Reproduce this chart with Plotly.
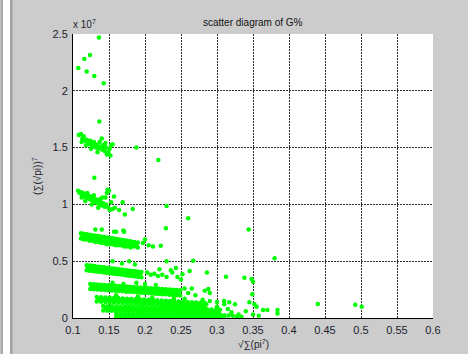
import plotly.graph_objects as go

# ---- data (x actual, y in units of 1e7) ----
band_top = [(0.1074, 2.20), (0.1157, 2.28), (0.1236, 2.315), (0.1361, 2.47),
            (0.1190, 2.17), (0.1296, 2.13), (0.1426, 2.066), (0.1366, 1.73)]

band_15 = [(0.108, 1.61), (0.111, 1.62), (0.113, 1.58), (0.115, 1.60), (0.117, 1.56),
           (0.119, 1.57), (0.121, 1.55), (0.122, 1.53), (0.124, 1.56), (0.126, 1.54),
           (0.127, 1.51), (0.129, 1.55), (0.131, 1.53), (0.132, 1.50), (0.134, 1.52),
           (0.136, 1.49), (0.137, 1.55), (0.139, 1.51), (0.141, 1.48), (0.142, 1.52),
           (0.144, 1.47), (0.146, 1.50), (0.147, 1.44), (0.149, 1.46), (0.151, 1.49),
           (0.153, 1.52), (0.152, 1.43), (0.112, 1.55), (0.118, 1.52), (0.125, 1.49),
           (0.140, 1.58), (0.145, 1.54), (0.134, 1.46), (0.155, 1.53),
           (0.188, 1.50), (0.2185, 1.39), (0.1296, 1.235)]

band_10 = [(0.107, 1.12), (0.109, 1.10), (0.111, 1.11), (0.113, 1.08), (0.114, 1.10),
           (0.116, 1.07), (0.118, 1.09), (0.119, 1.06), (0.121, 1.08), (0.122, 1.05),
           (0.124, 1.07), (0.125, 1.04), (0.127, 1.06), (0.128, 1.03), (0.130, 1.05),
           (0.131, 1.02), (0.133, 1.04), (0.134, 1.01), (0.136, 1.03), (0.137, 1.00),
           (0.139, 1.02), (0.140, 0.99), (0.142, 1.01), (0.144, 0.98), (0.145, 1.06),
           (0.147, 1.10), (0.148, 1.13), (0.150, 1.12), (0.146, 1.00), (0.149, 0.97),
           (0.151, 0.95), (0.153, 1.02), (0.117, 1.03), (0.126, 1.00), (0.135, 0.97),
           (0.141, 1.06), (0.155, 0.96), (0.158, 0.97), (0.112, 1.06), (0.120, 1.10),
           (0.129, 1.08), (0.138, 1.05),
           (0.157, 1.07), (0.169, 1.02), (0.164, 0.95), (0.172, 0.91), (0.183, 0.96),
           (0.230, 0.986), (0.260, 0.878), (0.229, 0.79), (0.344, 0.78), (0.131, 0.78),
           (0.157, 0.76), (0.171, 0.76)]

band_07 = [(0.111, 0.745), (0.111, 0.70), (0.115, 0.741), (0.115, 0.69), (0.119, 0.737),
           (0.119, 0.69), (0.123, 0.733), (0.123, 0.68), (0.127, 0.729), (0.127, 0.68),
           (0.131, 0.725), (0.131, 0.67), (0.135, 0.721), (0.135, 0.67), (0.139, 0.717),
           (0.139, 0.66), (0.143, 0.713), (0.143, 0.66), (0.147, 0.709), (0.147, 0.65),
           (0.151, 0.705), (0.151, 0.65), (0.155, 0.701), (0.155, 0.65), (0.159, 0.697),
           (0.159, 0.64), (0.163, 0.693), (0.163, 0.64), (0.167, 0.689), (0.167, 0.64),
           (0.171, 0.685), (0.171, 0.63), (0.175, 0.680), (0.175, 0.63), (0.180, 0.675),
           (0.180, 0.62), (0.185, 0.670), (0.185, 0.63), (0.190, 0.665), (0.190, 0.62),
           (0.113, 0.72), (0.117, 0.715), (0.121, 0.71), (0.125, 0.705), (0.129, 0.70),
           (0.133, 0.695), (0.137, 0.69), (0.141, 0.685), (0.145, 0.68), (0.149, 0.675),
           (0.153, 0.675), (0.157, 0.67), (0.161, 0.665), (0.165, 0.665), (0.169, 0.66),
           (0.173, 0.655), (0.178, 0.65), (0.183, 0.645), (0.188, 0.64),
           (0.200, 0.69), (0.197, 0.66), (0.205, 0.64), (0.211, 0.63), (0.222, 0.636),
           (0.140, 0.78), (0.160, 0.76), (0.170, 0.77)]

band_045 = [(0.119, 0.465), (0.119, 0.420), (0.123, 0.462), (0.123, 0.417), (0.127, 0.459),
            (0.127, 0.414), (0.131, 0.455), (0.131, 0.410), (0.135, 0.452), (0.135, 0.407),
            (0.139, 0.449), (0.139, 0.404), (0.143, 0.446), (0.143, 0.401), (0.147, 0.443),
            (0.147, 0.398), (0.151, 0.439), (0.151, 0.394), (0.155, 0.436), (0.155, 0.391),
            (0.159, 0.433), (0.159, 0.388), (0.163, 0.430), (0.163, 0.385), (0.167, 0.427),
            (0.167, 0.382), (0.171, 0.423), (0.171, 0.378), (0.175, 0.420), (0.175, 0.375),
            (0.179, 0.417), (0.179, 0.372), (0.183, 0.414), (0.183, 0.369), (0.187, 0.411),
            (0.187, 0.366), (0.191, 0.407), (0.191, 0.362), (0.195, 0.404), (0.195, 0.359),
            (0.121, 0.44), (0.125, 0.44), (0.129, 0.435), (0.133, 0.43), (0.137, 0.43),
            (0.141, 0.425), (0.145, 0.42), (0.149, 0.415), (0.153, 0.415), (0.157, 0.41),
            (0.161, 0.41), (0.165, 0.405), (0.169, 0.40), (0.173, 0.40), (0.177, 0.395),
            (0.181, 0.39), (0.185, 0.39), (0.189, 0.385), (0.193, 0.38),
            (0.203, 0.40), (0.208, 0.38), (0.213, 0.39), (0.218, 0.37), (0.224, 0.38),
            (0.230, 0.36), (0.236, 0.42), (0.220, 0.43), (0.178, 0.50), (0.155, 0.50),
            (0.168, 0.48), (0.186, 0.47),
            (0.238, 0.40), (0.252, 0.385), (0.262, 0.414), (0.267, 0.505), (0.286, 0.40),
            (0.3125, 0.364), (0.338, 0.355), (0.350, 0.32), (0.380, 0.525), (0.245, 0.36),
            (0.250, 0.34), (0.243, 0.44), (0.230, 0.50)]

band_028 = [(0.124, 0.300), (0.124, 0.255), (0.129, 0.298), (0.129, 0.253), (0.134, 0.295),
            (0.134, 0.250), (0.139, 0.293), (0.139, 0.248), (0.144, 0.291), (0.144, 0.246),
            (0.149, 0.289), (0.149, 0.244), (0.154, 0.286), (0.154, 0.241), (0.159, 0.284),
            (0.159, 0.239), (0.164, 0.282), (0.164, 0.237), (0.169, 0.280), (0.169, 0.235),
            (0.174, 0.277), (0.174, 0.232), (0.179, 0.275), (0.179, 0.230), (0.184, 0.273),
            (0.184, 0.228), (0.189, 0.271), (0.189, 0.226), (0.194, 0.268), (0.194, 0.223),
            (0.199, 0.266), (0.199, 0.221), (0.204, 0.264), (0.204, 0.219), (0.209, 0.262),
            (0.209, 0.217), (0.214, 0.259), (0.214, 0.214), (0.219, 0.257), (0.219, 0.212),
            (0.224, 0.255), (0.224, 0.210), (0.229, 0.253), (0.229, 0.208), (0.234, 0.250),
            (0.234, 0.205), (0.239, 0.248), (0.239, 0.203), (0.244, 0.246), (0.244, 0.201),
            (0.249, 0.244), (0.249, 0.199),
            (0.126, 0.278), (0.131, 0.275), (0.136, 0.273), (0.141, 0.270), (0.146, 0.268),
            (0.151, 0.266), (0.156, 0.264), (0.161, 0.262), (0.166, 0.259), (0.171, 0.257),
            (0.176, 0.255), (0.181, 0.252), (0.186, 0.250), (0.191, 0.248), (0.196, 0.245),
            (0.201, 0.243), (0.206, 0.241), (0.211, 0.238), (0.216, 0.236), (0.221, 0.234),
            (0.226, 0.231), (0.231, 0.229), (0.236, 0.227), (0.241, 0.224), (0.246, 0.222),
            (0.155, 0.31), (0.170, 0.30), (0.188, 0.31), (0.200, 0.30), (0.215, 0.29),
            (0.255, 0.26), (0.260, 0.22), (0.270, 0.20), (0.283, 0.24), (0.290, 0.22),
            (0.265, 0.26), (0.288, 0.255), (0.348, 0.343), (0.349, 0.21)]

band_017 = [(0.133, 0.185), (0.133, 0.145), (0.139, 0.183), (0.139, 0.143), (0.145, 0.181),
            (0.145, 0.141), (0.151, 0.179), (0.151, 0.139), (0.157, 0.177), (0.157, 0.137),
            (0.163, 0.175), (0.163, 0.135), (0.169, 0.172), (0.169, 0.132), (0.175, 0.170),
            (0.175, 0.130), (0.181, 0.168), (0.181, 0.128), (0.187, 0.166), (0.187, 0.126),
            (0.193, 0.164), (0.193, 0.124), (0.199, 0.162), (0.199, 0.122), (0.205, 0.160),
            (0.205, 0.120), (0.211, 0.158), (0.211, 0.118), (0.217, 0.156), (0.217, 0.116),
            (0.223, 0.154), (0.223, 0.114), (0.229, 0.151), (0.229, 0.111), (0.235, 0.149),
            (0.235, 0.109), (0.241, 0.147), (0.241, 0.107), (0.247, 0.145), (0.247, 0.105),
            (0.253, 0.143), (0.253, 0.103), (0.259, 0.141), (0.259, 0.101), (0.265, 0.139),
            (0.265, 0.099), (0.271, 0.137), (0.271, 0.097), (0.277, 0.135), (0.277, 0.095),
            (0.283, 0.133), (0.283, 0.093),
            (0.136, 0.165), (0.142, 0.162), (0.148, 0.160), (0.154, 0.158), (0.160, 0.156),
            (0.166, 0.154), (0.172, 0.151), (0.178, 0.149), (0.184, 0.147), (0.190, 0.145),
            (0.196, 0.143), (0.202, 0.141), (0.208, 0.139), (0.214, 0.137), (0.220, 0.135),
            (0.226, 0.132), (0.232, 0.130), (0.238, 0.128), (0.244, 0.126), (0.250, 0.124),
            (0.256, 0.122), (0.262, 0.120), (0.268, 0.118), (0.274, 0.116), (0.280, 0.114),
            (0.160, 0.20), (0.190, 0.19), (0.210, 0.18), (0.240, 0.17), (0.280, 0.16),
            (0.290, 0.15), (0.300, 0.14), (0.310, 0.15), (0.255, 0.17), (0.317, 0.138),
            (0.345, 0.138), (0.352, 0.12)]

band_008 = [(0.142, 0.105), (0.142, 0.065), (0.148, 0.104), (0.148, 0.064), (0.154, 0.103),
            (0.154, 0.063), (0.160, 0.101), (0.160, 0.061), (0.166, 0.100), (0.166, 0.060),
            (0.172, 0.099), (0.172, 0.059), (0.178, 0.098), (0.178, 0.058), (0.184, 0.097),
            (0.184, 0.057), (0.190, 0.095), (0.190, 0.055), (0.196, 0.094), (0.196, 0.054),
            (0.202, 0.093), (0.202, 0.053), (0.208, 0.092), (0.208, 0.052), (0.214, 0.091),
            (0.214, 0.051), (0.220, 0.089), (0.220, 0.049), (0.226, 0.088), (0.226, 0.048),
            (0.232, 0.087), (0.232, 0.047), (0.238, 0.086), (0.238, 0.046), (0.244, 0.085),
            (0.244, 0.045), (0.250, 0.083), (0.250, 0.043), (0.256, 0.082), (0.256, 0.042),
            (0.262, 0.081), (0.262, 0.041), (0.268, 0.080), (0.268, 0.040), (0.274, 0.079),
            (0.274, 0.039), (0.280, 0.077), (0.280, 0.037), (0.286, 0.076), (0.286, 0.036),
            (0.292, 0.075), (0.292, 0.035), (0.298, 0.074), (0.298, 0.034), (0.304, 0.073),
            (0.304, 0.033),
            (0.145, 0.085), (0.151, 0.084), (0.157, 0.083), (0.163, 0.081), (0.169, 0.080),
            (0.175, 0.079), (0.181, 0.077), (0.187, 0.076), (0.193, 0.075), (0.199, 0.074),
            (0.205, 0.072), (0.211, 0.071), (0.217, 0.070), (0.223, 0.069), (0.229, 0.067),
            (0.235, 0.066), (0.241, 0.065), (0.247, 0.064), (0.253, 0.062), (0.259, 0.061),
            (0.265, 0.060), (0.271, 0.059), (0.277, 0.057), (0.283, 0.056), (0.289, 0.055),
            (0.295, 0.054), (0.301, 0.053)]

band_002 = [(0.160, 0.040), (0.160, 0.010), (0.166, 0.040), (0.166, 0.009), (0.172, 0.039),
            (0.172, 0.010), (0.178, 0.039), (0.178, 0.008), (0.184, 0.038), (0.184, 0.009),
            (0.190, 0.038), (0.190, 0.008), (0.196, 0.037), (0.196, 0.009), (0.202, 0.037),
            (0.202, 0.008), (0.208, 0.036), (0.208, 0.009), (0.214, 0.036), (0.214, 0.008),
            (0.220, 0.035), (0.220, 0.008), (0.226, 0.035), (0.226, 0.009), (0.232, 0.034),
            (0.232, 0.008), (0.238, 0.034), (0.238, 0.007), (0.244, 0.033), (0.244, 0.008),
            (0.250, 0.032), (0.250, 0.007), (0.256, 0.032), (0.256, 0.008), (0.262, 0.031),
            (0.262, 0.007), (0.268, 0.030), (0.268, 0.008), (0.274, 0.030), (0.274, 0.007),
            (0.280, 0.029), (0.280, 0.007), (0.286, 0.028), (0.286, 0.006), (0.292, 0.027),
            (0.292, 0.007), (0.298, 0.026), (0.298, 0.006), (0.304, 0.025), (0.304, 0.006),
            (0.310, 0.024), (0.310, 0.005), (0.316, 0.022), (0.322, 0.020), (0.328, 0.015),
            (0.334, 0.010),
            (0.163, 0.024), (0.169, 0.024), (0.175, 0.023), (0.181, 0.023), (0.187, 0.022),
            (0.193, 0.022), (0.199, 0.021), (0.205, 0.021), (0.211, 0.020), (0.217, 0.020),
            (0.223, 0.020), (0.229, 0.019), (0.235, 0.019), (0.241, 0.018), (0.247, 0.018),
            (0.253, 0.017), (0.259, 0.017), (0.265, 0.016), (0.271, 0.016), (0.277, 0.015),
            (0.283, 0.015), (0.289, 0.014), (0.295, 0.014), (0.301, 0.013), (0.307, 0.013)]

outliers_low = [(0.285, 0.12), (0.300, 0.10), (0.310, 0.12), (0.315, 0.08), (0.325, 0.12),
                (0.340, 0.06), (0.350, 0.03), (0.355, 0.10), (0.358, 0.02), (0.364, 0.07),
                (0.370, 0.07), (0.384, 0.07), (0.384, 0.04), (0.330, 0.03), (0.320, 0.05),
                (0.440, 0.123), (0.492, 0.117), (0.501, 0.10)]

all_bands = [band_top, band_15, band_10, band_07, band_045, band_028,
             band_017, band_008, band_002, outliers_low]

x_tickvals = [0.1, 0.15, 0.2, 0.25, 0.3, 0.35, 0.4, 0.45, 0.5, 0.55, 0.6]
x_ticktext = ["0.1", "0.15", "0.2", "0.25", "0.3", "0.35", "0.4", "0.45", "0.5", "0.55", "0.6"]
y_tickvals = [0, 0.5, 1, 1.5, 2, 2.5]
y_ticktext = ["0", "0.5", "1", "1.5", "2", "2.5"]

xs = [p[0] for band in all_bands for p in band]
ys = [p[1] for band in all_bands for p in band]

# ---- figure ----
W, H = 468, 354
ML, MR, MT, MB = 73, 35, 34, 36
PW, PH = W - ML - MR, H - MT - MB

def px_x(px):
    return (px - ML) / PW

def px_y(py):
    return (H - MB - py) / PH

fig = go.Figure()
fig.add_trace(go.Scatter(
    x=xs, y=ys, mode="markers",
    marker=dict(color="#00ff00", size=4.5, line=dict(width=0)),
    showlegend=False, hoverinfo="skip"))

font_family = "Liberation Sans, Arial, sans-serif"
tick_color = "#1c1c2c"
grid_dash = "1.5px,1.5px"

fig.update_layout(
    width=W, height=H,
    margin=dict(l=ML, r=MR, t=MT, b=MB, pad=0),
    paper_bgcolor="rgba(0,0,0,0)",
    plot_bgcolor="#ffffff",
    font=dict(family=font_family, size=11, color=tick_color),
    xaxis=dict(range=[0.1, 0.6], tickvals=x_tickvals, ticktext=x_ticktext,
               automargin=False, ticklabelstandoff=2,
               showgrid=True, gridcolor="#303030", griddash=grid_dash, gridwidth=1,
               showline=True, linecolor="#000000", linewidth=1, zeroline=False,
               ticks="", tickfont=dict(size=11, color=tick_color)),
    yaxis=dict(range=[0, 2.5], tickvals=y_tickvals, ticktext=y_ticktext,
               automargin=False, ticklabelstandoff=2,
               showgrid=True, gridcolor="#303030", griddash=grid_dash, gridwidth=1,
               showline=True, linecolor="#000000", linewidth=1, zeroline=False,
               ticks="", tickfont=dict(size=11, color=tick_color)),
)

fig.add_annotation(text="scatter diagram of G%", xref="paper", yref="paper",
                   x=0.5, y=px_y(23), xanchor="center", yanchor="middle",
                   showarrow=False, font=dict(size=10, color="#111111"))

fig.add_annotation(text="x 10<sup>7</sup>", xref="paper", yref="paper",
                   x=px_x(71), y=px_y(24), xanchor="left", yanchor="middle",
                   showarrow=False, font=dict(size=10, color=tick_color))

fig.add_annotation(text="√∑(pi<sup>7</sup>)", xref="paper", yref="paper",
                   x=0.5, y=px_y(344), xanchor="center", yanchor="middle",
                   showarrow=False, font=dict(size=10, color=tick_color))

fig.add_annotation(text="(∑(√pi))<sup>7</sup>", xref="paper", yref="paper",
                   x=px_x(37), y=px_y(176), xanchor="center", yanchor="middle",
                   textangle=-90, showarrow=False, font=dict(size=10, color=tick_color))

# page background: window frame stripes at the left edge, gray elsewhere
page_bg = ("linear-gradient(to right, #c4c4c4 0px, #c4c4c4 1px, #a9a9a9 1px, #a9a9a9 3px, "
           "#ffffff 3px, #ffffff 10px, #a0a0a0 10px, #a0a0a0 12px, #b9b9b9 12px, "
           "#b9b9b9 13px, #cccccc 13px, #cccccc 100%)")

fig.write_html("out.html",
               config={"displayModeBar": False},
               post_script="document.body.style.margin='0px';"
                           "document.documentElement.style.background='" + page_bg + "';"
                           "document.body.style.background='" + page_bg + "';"
                           "document.body.style.minHeight='100vh';")
